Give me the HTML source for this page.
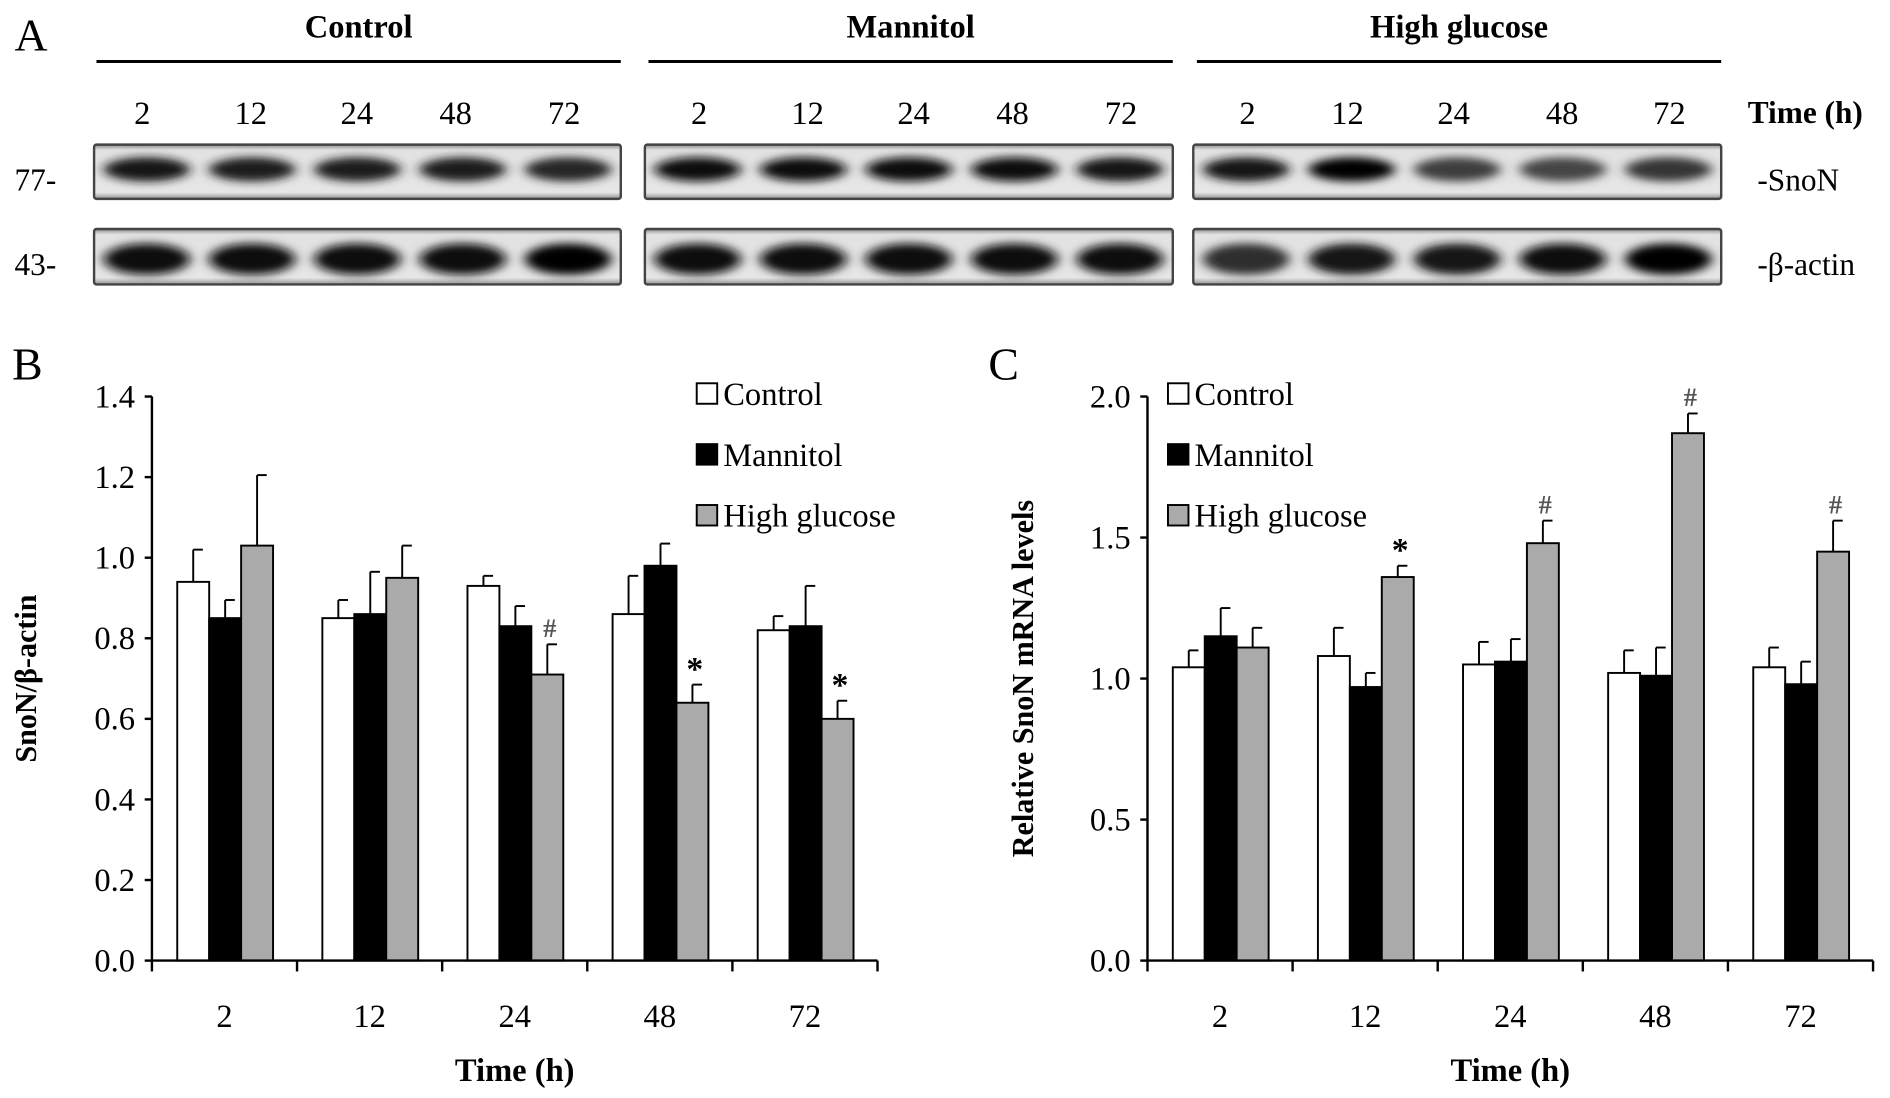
<!DOCTYPE html>
<html><head><meta charset="utf-8">
<style>
html,body{margin:0;padding:0;background:#fff;}
svg{display:block;font-family:"Liberation Serif",serif;}
</style></head>
<body>
<svg id="fig" width="1890" height="1098" viewBox="0 0 1568 911" xmlns="http://www.w3.org/2000/svg">
<defs>
<filter id="blur" x="-30%" y="-80%" width="160%" height="260%"><feGaussianBlur stdDeviation="5 3.5"/></filter>
<linearGradient id="blotbg" x1="0" y1="0" x2="0" y2="1">
<stop offset="0" stop-color="#8a8a8a"/><stop offset="0.1" stop-color="#e2e2e2"/><stop offset="0.88" stop-color="#e6e6e6"/><stop offset="1" stop-color="#909090"/>
</linearGradient>
</defs>
<g id="panelA"></g>
<g id="panelB"></g>
<g id="panelC"></g>
</svg>
<script>
const groups = ["Control","Mannitol","High glucose"];
const times = ["2","12","24","48","72"];
const snonIntensity = [[0.85,0.8,0.82,0.8,0.76],[0.9,0.9,0.9,0.95,0.87],[0.85,1.0,0.6,0.55,0.65]];
const actinIntensity = [[0.95,0.93,0.92,0.95,1.0],[0.9,0.93,0.9,0.9,0.95],[0.7,0.85,0.87,0.9,1.0]];

const bCategories = ["2","12","24","48","72"];
const bControl = [0.94,0.85,0.93,0.86,0.82];
const bControlErr = [0.08,0.045,0.025,0.095,0.035];
const bMannitol = [0.85,0.86,0.83,0.98,0.83];
const bMannitolErr = [0.045,0.105,0.05,0.055,0.10];
const bHG = [1.03,0.95,0.71,0.64,0.60];
const bHGErr = [0.175,0.08,0.075,0.045,0.045];
const bMarks = ["","","#","*","*"];
const bTicks = ["0.0","0.2","0.4","0.6","0.8","1.0","1.2","1.4"];

const cCategories = ["2","12","24","48","72"];
const cControl = [1.04,1.08,1.05,1.02,1.04];
const cControlErr = [0.06,0.10,0.08,0.08,0.07];
const cMannitol = [1.15,0.97,1.06,1.01,0.98];
const cMannitolErr = [0.10,0.05,0.08,0.10,0.08];
const cHG = [1.11,1.36,1.48,1.87,1.45];
const cHGErr = [0.07,0.04,0.08,0.07,0.11];
const cMarks = ["","*","#","#","#"];
const cTicks = ["0.0","0.5","1.0","1.5","2.0"];

const NS="http://www.w3.org/2000/svg";
function mk(parent, tag, attrs, text){
  const e=document.createElementNS(NS,tag);
  for(const k in attrs) e.setAttribute(k,attrs[k]);
  if(text!==undefined) e.textContent=text;
  parent.appendChild(e); return e;
}

// ---------- Panel A ----------
const A=document.getElementById('panelA');
let t=mk(A,'text',{x:12,y:42,'font-size':38},'A');


const boxX=[[78,515],[535,973],[990,1428]];
const headerX=[[80,515],[538,973],[993,1428]];
const laneX=[[118,208,296,378,468],[580,670,758,840,930],[1035,1118,1206,1296,1385]];
groups.forEach((g,gi)=>{
  const cx=(headerX[gi][0]+headerX[gi][1])/2;
  let e=mk(A,'text',{x:cx,y:31,'font-size':27,'font-weight':'bold','text-anchor':'middle'},g);
  
  
  e=mk(A,'line',{x1:headerX[gi][0],x2:headerX[gi][1],y1:51,y2:51,stroke:'#000','stroke-width':2.5});
  
  
  times.forEach((tm,ti)=>{
    e=mk(A,'text',{x:laneX[gi][ti],y:103,'font-size':27,'text-anchor':'middle'},tm);
    
    
  });
  [[120,165,snonIntensity],[190,236,actinIntensity]].forEach(([y1,y2,arr],ri)=>{
    e=mk(A,'rect',{x:boxX[gi][0],y:y1,width:boxX[gi][1]-boxX[gi][0],height:y2-y1,fill:'url(#blotbg)',stroke:'#444','stroke-width':2,rx:2});
    
    
    const w=(boxX[gi][1]-boxX[gi][0])/5;
    arr[gi].forEach((v,li)=>{
      const c=Math.max(0,Math.round(255*(1-v)*0.6));
      const bx=boxX[gi][0]+w*li+w/2;
      const by=(y1+y2)/2+(ri===0?-2:2);
      e=mk(A,'ellipse',{cx:bx,cy:by,rx:w*0.41,ry:ri===0?10:13,fill:`rgb(${c},${c},${c})`,filter:'url(#blur)'});
      
      
    });
  });
});
[['77-',12,158],['43-',12,228],['-SnoN',1458,158],['-β-actin',1458,228]].forEach(([s,x,y])=>{
  const e=mk(A,'text',{x:x,y:y,'font-size':26},s);
  
  
});
t=mk(A,'text',{x:1450,y:102,'font-size':26,'font-weight':'bold'},'Time (h)');



// ---------- Bar chart ----------
function chart(G,opt){
  const x0=opt.x0, yTop=329, yBot=797, gw=120.4, bw=26.5, off=21;
  const ymax=opt.ymax;
  const yS=v=>yBot-(v/ymax)*(yBot-yTop);
  const xS=(i,s)=>x0+gw*i+off+bw*s;
  let e=mk(G,'text',{x:opt.lx,y:315,'font-size':38},opt.letter);
  
  
  const series=[[opt.c,opt.ce,'#fff'],[opt.m,opt.me,'#000'],[opt.h,opt.he,'#aaa']];
  opt.cats.forEach((c,i)=>{
    series.forEach(([vals,errs,fill],s)=>{
      const x=xS(i,s), y=yS(vals[i]), ye=yS(vals[i]+errs[i]);
      const cx=x+bw/2;
      e=mk(G,'line',{x1:cx,x2:cx,y1:y,y2:ye,stroke:'#000','stroke-width':1.6});
      
      
      e=mk(G,'line',{x1:cx,x2:cx+8,y1:ye,y2:ye,stroke:'#000','stroke-width':1.6});
      
      
      e=mk(G,'rect',{x:x,y:y,width:bw,height:yBot-y,fill:fill,stroke:'#000','stroke-width':1.6});
      
      
      if(s===2 && opt.marks[i]){
        const mk2=opt.marks[i];
        e=mk(G,'text',{x:cx+2,y:ye-(mk2==='*'?4:6),'font-size':mk2==='*'?28:22,'font-weight':'bold','text-anchor':'middle',fill:mk2==='#'?'#555':'#000'},mk2);
        
        
      }
    });
    e=mk(G,'text',{x:x0+gw*(i+0.5),y:852,'font-size':27,'text-anchor':'middle'},c);
    
    
  });
  e=mk(G,'line',{x1:x0,x2:x0,y1:yTop,y2:yBot,stroke:'#000','stroke-width':2});
  
  
  e=mk(G,'line',{x1:x0,x2:x0+gw*5,y1:yBot,y2:yBot,stroke:'#000','stroke-width':2});
  
  
  for(let i=0;i<=5;i++){
    e=mk(G,'line',{x1:x0+gw*i,x2:x0+gw*i,y1:yBot,y2:yBot+9,stroke:'#000','stroke-width':2});
    
    
  }
  opt.ticks.forEach(tk=>{
    const y=yS(parseFloat(tk));
    e=mk(G,'line',{x1:x0-6,x2:x0,y1:y,y2:y,stroke:'#000','stroke-width':2});
    
    
    e=mk(G,'text',{x:x0-14,y:y+9,'font-size':27,'text-anchor':'end'},tk);
    
    
  });
  e=mk(G,'text',{x:0,y:0,'font-size':25,'font-weight':'bold','text-anchor':'middle',transform:`translate(${opt.ylx},563) rotate(-90)`},opt.ylabel);
  
  
  e=mk(G,'text',{x:x0+gw*2.5,y:897,'font-size':27,'font-weight':'bold','text-anchor':'middle'},'Time (h)');
  
  
  [['Control','#fff'],['Mannitol','#000'],['High glucose','#aaa']].forEach(([n,f],k)=>{
    const y=318+k*50.5;
    e=mk(G,'rect',{x:opt.legx,y:y,width:17,height:17,fill:f,stroke:'#000','stroke-width':1.6});
    
    
    e=mk(G,'text',{x:opt.legx+22,y:y+18,'font-size':27},n);
    
    
  });
}
chart(document.getElementById('panelB'),{x0:126,ymax:1.4,letter:'B',lx:10,cats:bCategories,c:bControl,ce:bControlErr,m:bMannitol,me:bMannitolErr,h:bHG,he:bHGErr,marks:bMarks,ticks:bTicks,ylabel:'SnoN/β-actin',ylx:30,legx:578});
chart(document.getElementById('panelC'),{x0:952,ymax:2.0,letter:'C',lx:820,cats:cCategories,c:cControl,ce:cControlErr,m:cMannitol,me:cMannitolErr,h:cHG,he:cHGErr,marks:cMarks,ticks:cTicks,ylabel:'Relative SnoN mRNA levels',ylx:857,legx:969});
</script>
</body></html>
